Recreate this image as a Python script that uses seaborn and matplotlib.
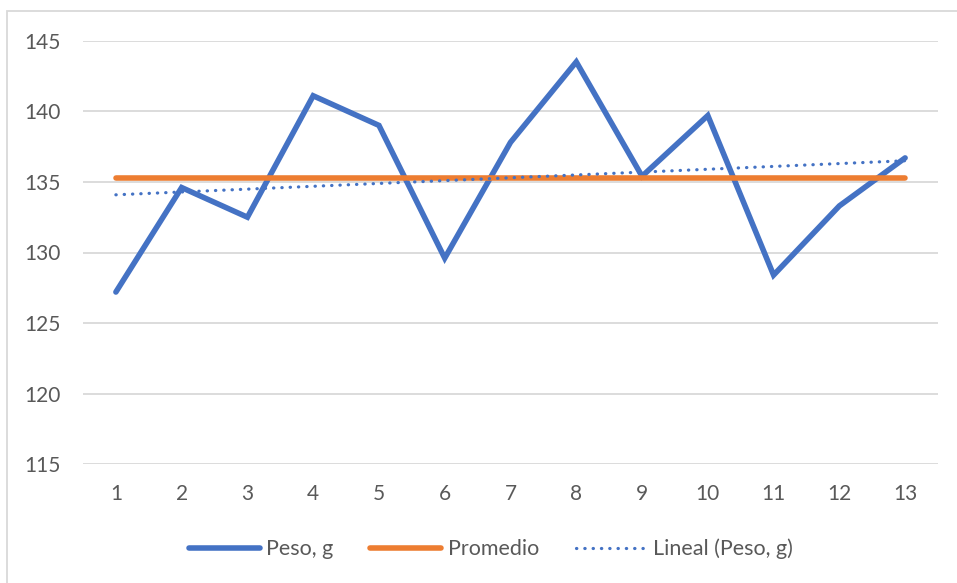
import numpy as np
import pandas as pd
import matplotlib
matplotlib.use("Agg")
import matplotlib.pyplot as plt
from matplotlib.lines import Line2D
from matplotlib.patches import Rectangle
import seaborn as sns

# Sample weights
muestras = list(range(1, 14))
peso_g = [127.2, 134.6, 132.5, 141.1, 139.0, 129.6, 137.8,
          143.5, 135.4, 139.7, 128.4, 133.3, 136.7]
y_ticks = [115, 120, 125, 130, 135, 140, 145]

BLUE = "#4472C4"
ORANGE = "#ED7D31"
GRID = "#D9D9D9"
TEXT = "#595959"

sns.set_theme(style="white")
plt.rcParams["font.family"] = ["Lato", "DejaVu Sans"]

W, H, DPI = 957, 583, 100
fig = plt.figure(figsize=(W / DPI, H / DPI), dpi=DPI)
fig.patch.set_facecolor("white")

# thin chart-area frame (left and top edges visible)
fig.add_artist(Rectangle((7 / W, -0.05), 1.1, 1.05 - 11 / H,
                         transform=fig.transFigure, fill=False,
                         edgecolor="#D9D9D9", linewidth=1.3))

left, right = 83 / W, 938 / W
top, bottom = 40.7 / H, 464.3 / H
ax = fig.add_axes([left, 1 - bottom, right - left, bottom - top])

df = pd.DataFrame({"muestra": muestras, "peso": peso_g})
promedio = float(np.mean(peso_g))
df["promedio"] = promedio
coef = np.polyfit(df["muestra"], df["peso"], 1)
df["lineal"] = np.polyval(coef, df["muestra"])

sns.lineplot(data=df, x="muestra", y="peso", ax=ax, color=BLUE,
             linewidth=4.0, solid_capstyle="round", solid_joinstyle="miter")
sns.lineplot(data=df, x="muestra", y="promedio", ax=ax, color=ORANGE,
             linewidth=4.0, solid_capstyle="round")
sns.lineplot(data=df, x="muestra", y="lineal", ax=ax, color=BLUE,
             linewidth=2.3, linestyle=(0, (0.1, 2.5)),
             dash_capstyle="round")

FS = 15
ax.set_xlim(0.5, 13.5)
ax.set_ylim(115, 145)
ax.set_xticks(muestras)
ax.set_yticks(y_ticks)
ax.set_xlabel("")
ax.set_ylabel("")
ax.grid(axis="y", color=GRID, linewidth=1.3)
ax.set_axisbelow(True)
for s in ax.spines.values():
    s.set_visible(False)
ax.tick_params(axis="both", length=0, labelsize=FS, colors=TEXT)
ax.tick_params(axis="y", pad=16)
ax.tick_params(axis="x", pad=14)

handles = [
    Line2D([], [], color=BLUE, linewidth=4.0, solid_capstyle="round"),
    Line2D([], [], color=ORANGE, linewidth=4.0, solid_capstyle="round"),
    Line2D([], [], color=BLUE, linewidth=2.3, linestyle=(0, (0.1, 2.5)),
           dash_capstyle="round"),
]
labels = ["Peso, g", "Promedio", "Lineal (Peso, g)"]
fig.legend(handles, labels, loc="center", bbox_to_anchor=(491 / W, 1 - 549 / H),
           ncol=3, frameon=False, fontsize=15.5, labelcolor=TEXT,
           handlelength=3.3, handletextpad=0.3, columnspacing=1.7)

fig.savefig("out.png", dpi=DPI, facecolor="white")
